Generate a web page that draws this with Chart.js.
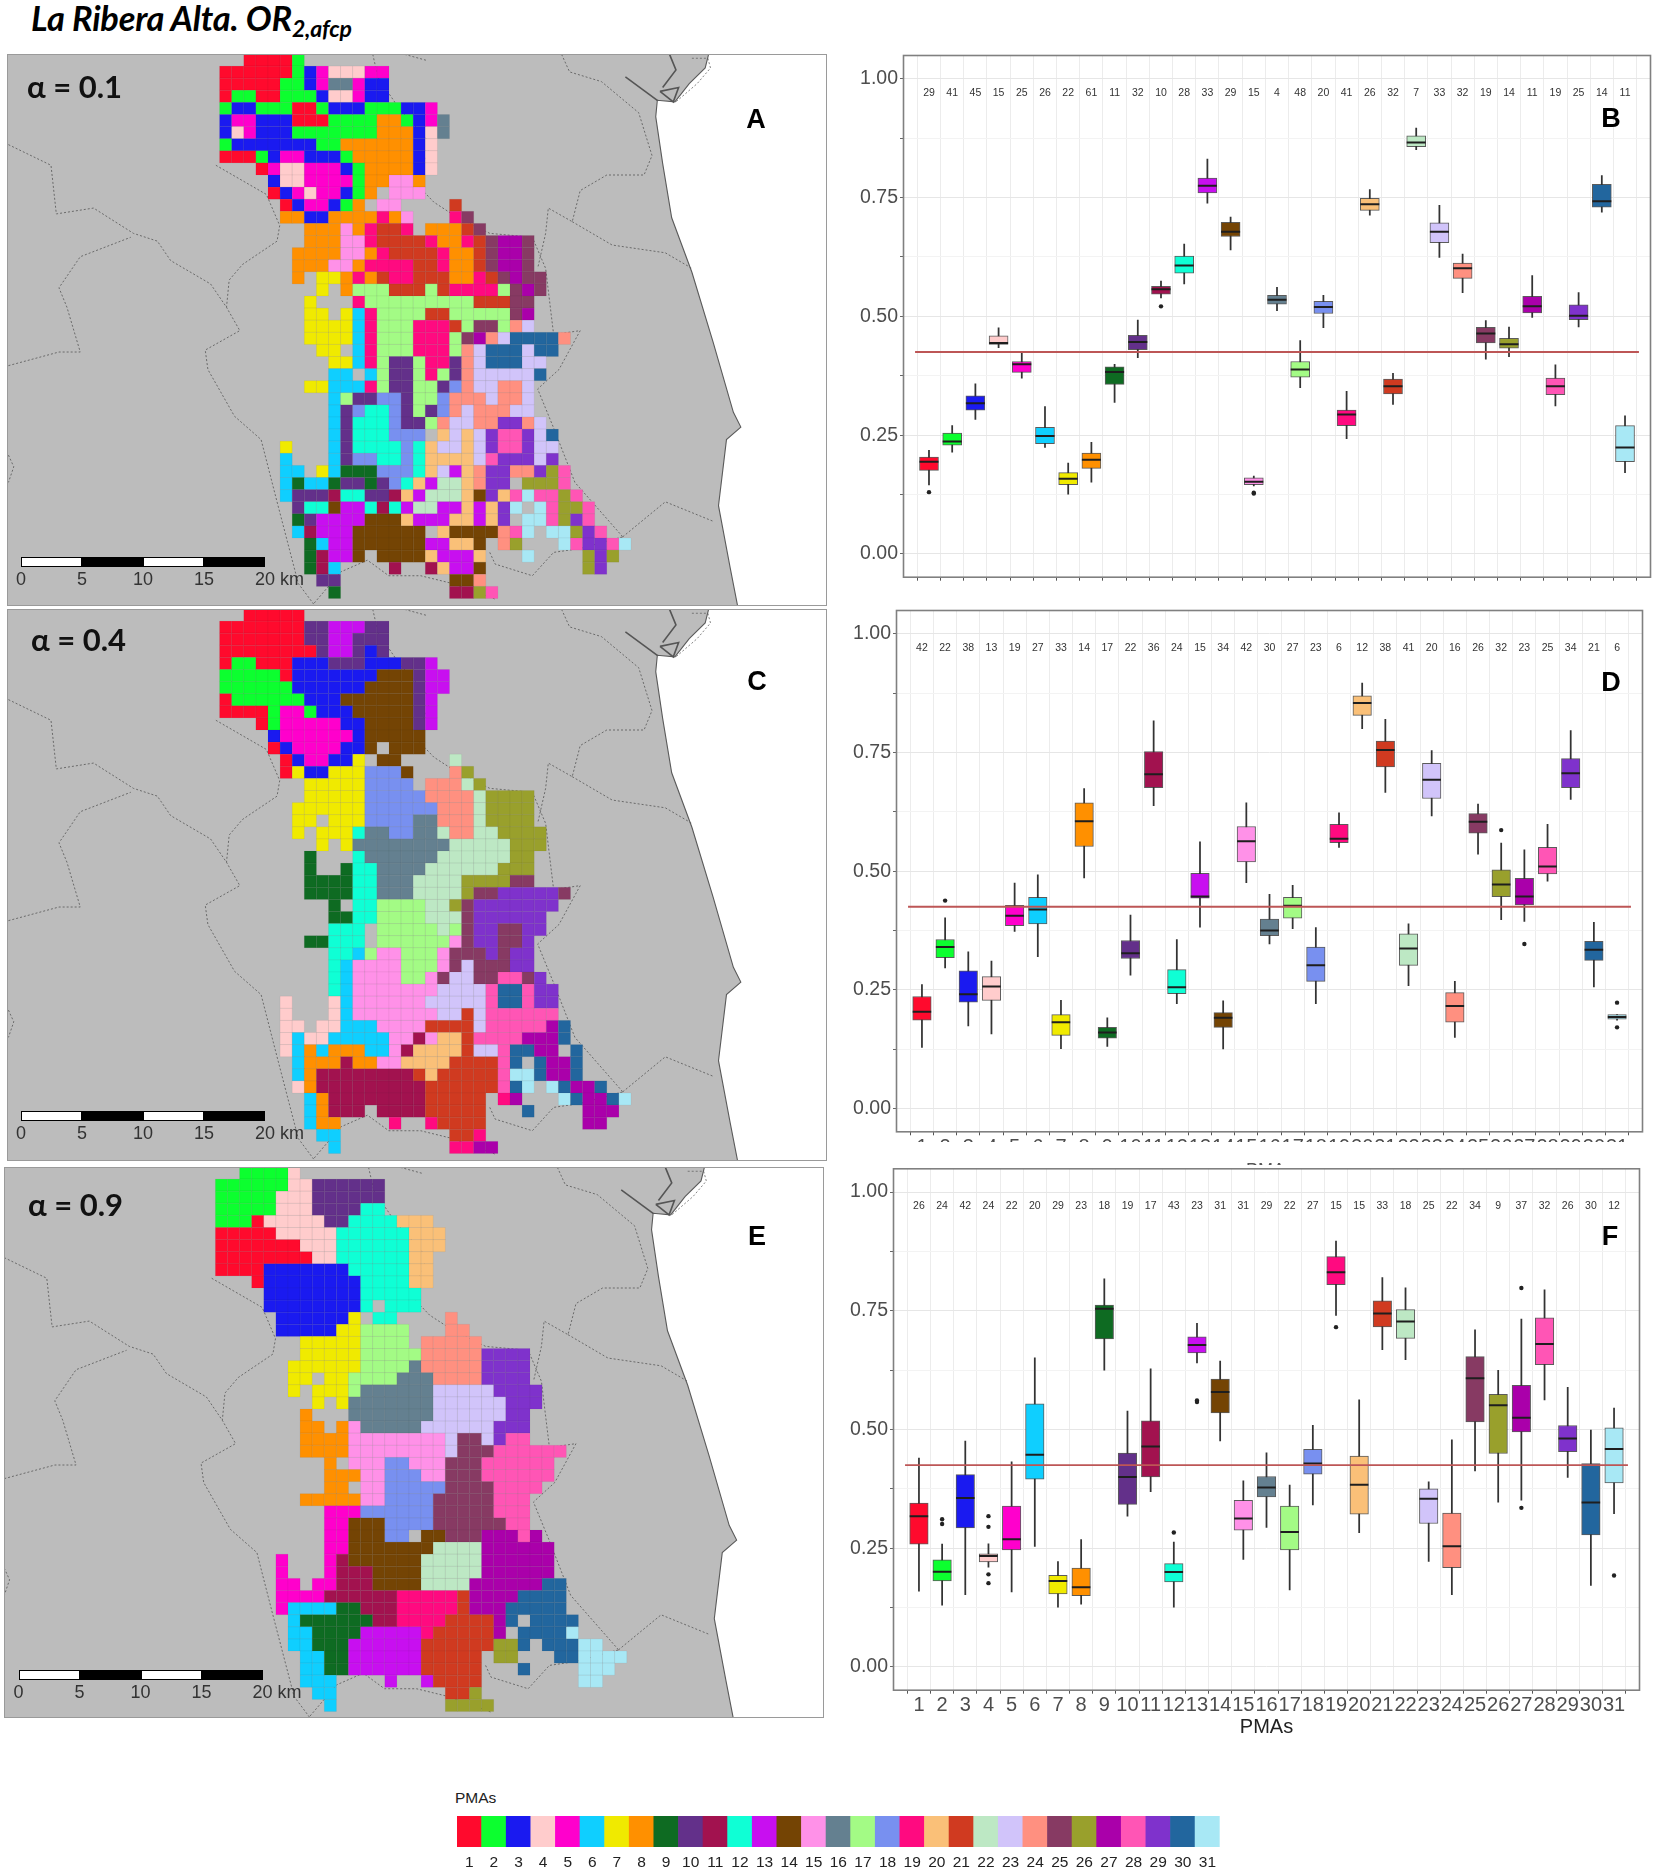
<!DOCTYPE html>
<html><head><meta charset="utf-8"><title>La Ribera Alta</title>
<script src="https://cdn.jsdelivr.net/npm/chart.js@4"></script>
<style>
html,body{margin:0;padding:0;background:#fff;}
body{position:relative;width:1653px;height:1871px;overflow:hidden;font-family:"Liberation Sans",Arial,sans-serif;}
canvas{position:absolute;display:block;}
.t{position:absolute;white-space:nowrap;line-height:1;}
.title{font:italic 700 34.4px "Lato",sans-serif;color:#000;letter-spacing:-.2px;}
.title sub{font-size:23px;vertical-align:-6px;line-height:0;}
.alpha{font:700 31px "Lato",sans-serif;color:#111;}
.letter{font:700 27px "Liberation Sans",sans-serif;color:#000;transform:translate(-50%,-50%);}
.sb{position:absolute;height:10px;border:1px solid #000;box-sizing:border-box;}
.sl{font-size:18px;color:#333;transform:translateX(-50%);}
.clip{position:absolute;overflow:hidden;}
</style></head><body>
<script>
const pmaColors=["#FF0A2D","#0CFF2F","#1A1AF0","#FFCCCC","#FF00CC","#0FCFFF","#F0EA00","#FF9000","#0E6B22","#63308A","#A2124F","#0FFFD5","#C80FF0","#744404","#FF91E8","#648090","#A3FB85","#7890F0","#FF0A80","#FAC078","#D03A20","#BDE8C4","#D1C4FA","#FF9080","#873A63","#99A02C","#AA00AA","#FF55B5","#7F32CC","#22669E","#A8E8F5"];
const categories=Array.from({length:31},(_,i)=>i+1);
const globalLine=0.425;

// Panel B (alpha = 0.1)
const bCount=[29,41,45,15,25,26,22,61,11,32,10,28,33,29,15,4,48,20,41,26,32,7,33,32,19,14,11,19,25,14,11];
const bHigh=[.218,.270,.358,.476,.422,.310,.191,.235,.399,.492,.574,.652,.831,.709,.164,.561,.449,.544,.342,.767,.380,.896,.7335,.631,.491,.4775,.586,.398,.550,.7965,.2905];
const bQ3=[.204,.2545,.333,.459,.405,.2665,.171,.2125,.394,.460,.563,.627,.791,.698,.160,.544,.405,.5315,.3025,.7485,.368,.880,.697,.612,.477,.4535,.542,.370,.524,.778,.270];
const bMed=[.194,.2365,.317,.444,.399,.248,.158,.198,.383,.446,.557,.607,.775,.678,.152,.535,.388,.5195,.2935,.736,.353,.866,.678,.601,.464,.4415,.521,.353,.501,.742,.224];
const bQ1=[.176,.229,.3025,.441,.382,.232,.146,.180,.357,.430,.5465,.591,.760,.668,.146,.5255,.372,.506,.270,.723,.337,.857,.655,.580,.444,.433,.507,.335,.493,.730,.194];
const bLow=[.145,.214,.283,.434,.370,.224,.126,.151,.319,.413,.539,.568,.738,.640,.143,.512,.350,.476,.2425,.713,.3145,.851,.624,.550,.410,.415,.498,.3115,.4775,.719,.171];
const bOutCat=[1,11,15,15];
const bOutVal=[.130,.521,.129,.127];

// Panel D (alpha = 0.4)
const dCount=[42,22,38,13,19,27,33,14,17,22,36,24,15,34,42,30,27,23,6,12,38,41,20,16,26,32,23,25,34,21,6];
const dHigh=[.261,.4015,.330,.3105,.475,.492,.228,.674,.191,.4075,.8165,.356,.562,.227,.644,.451,.470,.381,.623,.896,.820,.389,.754,.268,.641,.559,.545,.5985,.796,.392,.198];
const dQ3=[.236,.356,.290,.278,.428,.445,.198,.644,.171,.354,.752,.2925,.4955,.202,.594,.399,.445,.340,.5985,.869,.774,.368,.727,.244,.621,.503,.485,.550,.737,.352,.198];
const dMed=[.204,.3405,.241,.257,.406,.419,.182,.605,.160,.327,.704,.2555,.4465,.191,.563,.375,.427,.302,.568,.854,.755,.337,.6925,.216,.604,.472,.4465,.510,.706,.3345,.193];
const dQ1=[.186,.318,.224,.228,.385,.389,.154,.552,.148,.316,.676,.242,.443,.171,.5195,.364,.401,.268,.560,.828,.7195,.3015,.653,.182,.580,.4465,.429,.494,.676,.312,.188];
const dLow=[.129,.296,.174,.157,.373,.320,.126,.486,.131,.281,.638,.221,.382,.1255,.476,.347,.379,.221,.550,.800,.666,.259,.6165,.150,.536,.398,.394,.479,.651,.256,.186];
const dOutCat=[2,26,27,31,31];
const dOutVal=[.438,.5865,.3465,.223,.171];

// Panel F (alpha = 0.9)
const fCount=[26,24,42,24,22,20,29,23,18,19,17,43,23,31,31,29,22,27,15,15,33,18,25,22,34,9,37,32,26,30,12];
const fHigh=[.440,.2585,.4755,.2595,.432,.651,.222,.268,.817,.539,.628,.263,.7235,.644,.392,.451,.383,.509,.897,.5625,.820,.7985,.390,.478,.710,.6245,.7325,.794,.589,.499,.545];
const fQ3=[.345,.2255,.405,.238,.339,.554,.193,.208,.762,.4505,.518,.2175,.695,.606,.351,.401,.339,.4585,.864,.444,.771,.7525,.375,.324,.6535,.574,.593,.735,.5085,.428,.5035];
const fMed=[.3175,.2005,.356,.2335,.269,.447,.181,.168,.754,.400,.464,.200,.678,.579,.3125,.378,.284,.4285,.831,.3835,.744,.7275,.354,.254,.608,.551,.5245,.680,.481,.3465,.459];
const fQ1=[.2585,.181,.2925,.221,.2465,.3955,.154,.150,.6905,.3425,.400,.179,.6615,.535,.288,.358,.2465,.406,.805,.3215,.716,.692,.302,.209,.516,.4495,.495,.6365,.4535,.278,.3875];
const fLow=[.1595,.130,.152,.210,.158,.254,.126,.132,.625,.3175,.369,.126,.640,.476,.2265,.294,.162,.341,.740,.283,.668,.647,.222,.152,.413,.347,.351,.5625,.399,.1715,.323];
const fOutCat=[2,2,4,4,4,4,12,13,13,19,27,27,31];
const fOutVal=[.311,.301,.3175,.295,.195,.1765,.283,.561,.558,.7155,.798,.335,.1925];

// Map cells: each row lists "fromCol-toCol:pma", pma written in base 32 (a=10 ... v=31)
const mapARows=[
"2-5:1 6:2","0-5:1 6:2 7:3 8:5 9-11:4 12-13:5","0-4:1 5-6:2 7:3 8:5 9-10:g 11:5 12-13:3","0:1 1-2:2 3-4:1 5-7:2 8:3 9-10:4 11:5 12-13:3",
"0:2 1-2:3 3-5:2 6-7:1 8:2 9-11:3 12-14:2 15-16:3 17:5","0:3 1-2:5 3-5:3 6-8:1 9-12:2 13-14:8 15:2 16:3 17:5 18:g","0:3 1:4 2:5 3-5:3 6-12:2 13-15:8 16:3 17:4 18:g","0:2 1-7:3 8-9:2 10-15:8 16:3 17:4",
"0-2:1 3:2 4:3 5-6:5 7-9:3 10:2 11-15:8 16:3 17:4","3:1 4:5 5-6:4 7-9:5 10:3 11:2 12-15:8 16:3 17:4","4:3 5-6:4 7-10:5 11:2 12-13:8 14-15:f 16:8","4:1 5:3 6:5 7:4 8-9:5 10:3 11:2 12:8 14-16:f",
"5:1 6:3 7-8:5 9:3 10:2 11:8 13-14:f 19:l","5-6:8 7-8:3 9-12:8 13:j 14:8 15:f 19:j 20:p","7-9:8 10:f 11:8 12:j 13-14:l 15:j 17-19:8 20:l 21:p","7-9:8 10-11:f 12:j 13-16:l 17:j 18-19:8 20:j 21:l 22:p 23-24:r 25:p",
"6-9:8 10-11:f 12:8 13:j 14-17:l 18:j 19-20:8 21:l 22:p 23-24:r 25:p","6-8:8 9-10:f 11:8 12-15:j 16-17:l 18:j 19-20:8 21:l 22:p 23-24:r 25:p","6:8 8-9:7 10:8 11:j 12:8 13:l 14-15:j 16-18:l 19-20:8 21:j 22:l 23:p 24:r 25-26:p","8:7 10:8 11-13:h 14-16:l 17:h 18:l 19-22:j 23:h 24:p 25:r 26:p",
"7:7 11:j 12-20:h 21-23:l 24-25:p","7-8:7 10:7 11:6 12:j 13-16:h 17-18:l 19-23:h 24:p 25:r","7-10:7 11:6 12:j 13-15:h 16-18:j 19:l 20:h 21-22:p 23:h 24:o 25:n","7-10:7 11:6 12:j 13-15:h 16-18:j 19:h 20:p 21:r 22:o 23:n 24-27:u 28:o",
"8-9:7 11:6 12:j 13-15:h 16-18:j 19:h 20:o 21:n 22-24:u 25:n 26-27:u","9-10:7 11:6 12:j 13:h 14-15:a 16:h 17-18:j 19:a 20:o 21:n 22-24:u 25-26:n","9-10:6 12:6 13:h 14-15:a 16:h 17:j 18:h 19:a 20:o 21-25:n 26:u","7-8:7 9-11:6 12:j 13:h 14-15:a 16-17:h 18:a 19:i 20:o 21-22:n 23-24:o 25:n",
"9:6 10:h 11-12:a 13-14:i 15:a 16-17:h 18:i 19-21:o 22:n 23-24:o 25:n","9:6 10:a 11:i 12-13:c 14:i 15:a 16:h 17:a 18:i 19:o 20:n 21-23:o 24-25:n","9:6 10:a 11-13:c 14:i 15-16:a 17:h 18:o 19-20:n 21-22:o 23-24:t 25:o 26:n","9:6 10:a 11-13:c 14-16:i 18:k 19:n 20:k 21:n 22:t 23-24:s 25:t 26:n 27:u",
"5:7 9:6 10:a 11-14:c 15:i 16:c 17:k 18-19:n 20:k 21:n 22:t 23-24:s 25:t 26-27:n","5:6 9:6 10:a 11-12:i 13-14:c 15:i 16:c 17-20:k 21:n 22:s 23-25:t 26:n 27:t","5-6:6 8:7 9:6 10-12:9 13-15:i 16:c 17:k 18:n 19:d 20:k 21:o 22-23:t 24-25:o 26:t 27:q 28:s","5:6 6:9 7-8:6 9:9 10-11:a 12:9 13:a 14:i 15:c 16:k 17:d 18-19:m 20:k 21:o 22-23:t 25-27:q 28:s",
"5:6 6-8:a 9:b 10-11:c 12-13:a 14:b 15:k 16:d 17-19:m 20:k 21:e 22:t 23:k 24:s 25:v 26-27:s 28:q 29:s","6:a 7-8:c 9:e 10-11:d 12:c 13:b 14:c 15:d 16-17:m 18-19:d 20:k 21:d 22:k 23:t 24:v 26:v 27:s 28-29:q 30:s","6:9 7:a 8-11:d 12-14:e 15:k 16-18:d 19-20:k 21:d 22:k 23:t 25-26:v 27:s 28:q 29:t 30:s","6:6 7:b 8-10:d 11-16:e 18:k 19-22:e 23:o 24:s 25:v 27-28:v 29:q 30:t 31:s",
"7:9 8:6 9-10:d 11-16:e 17-18:d 19-20:k 21:e 23:o 24:q 28:v 29:s 30-31:t 32:s 33:v","7:9 8:b 9-10:d 11:e 13-16:e 17:k 18-20:d 21:k 25:v 30:q 31:t 32:q","7:9 8:b 9:6 14:b 17:b 18:k 19-20:d 21:e 30:q 31:t","8-9:a 19-20:e 21:o","9:9 19-20:b 21:q 22:s"];
const mapCRows=[
"2-6:1","0-6:1 7-8:a 9-11:d 12-13:a","0-6:1 7-8:a 9-10:d 11-13:a","0-7:1 8:a 9-10:d 11:a 12:3 13:a",
"0:1 1-2:2 3-5:1 6-8:3 9-11:a 12-14:3 15-16:a 17:d","0-4:2 5:1 6-12:3 13-15:e 16:a 17-18:d","0-5:2 6-11:3 12-15:e 16:a 17-18:d","0:1 1-6:2 7-9:3 10-15:e 16:a 17:d",
"0-3:1 4:2 5-6:5 7:2 8-10:3 11-15:e 16:a 17:d","3:1 4:2 5-9:5 10-11:3 12-15:e 16:a 17:d","4:3 5-10:5 11:3 12-16:e","4:1 5:3 6-9:5 10-11:3 12:e 14-16:e",
"5:1 6:3 7-8:5 9-10:3 11:7 13-14:e 19:m","5:1 6:7 7-8:3 9-11:7 12-14:i 15:e 19:o 20:q","7-11:7 12-15:i 17-19:o 20:m 21:q","7-11:7 12-16:i 17-20:o 21:m 22-25:q",
"6-11:7 12-17:i 18-20:o 21:m 22-25:q","6-7:7 9-11:7 12-15:i 16-17:g 18-20:o 21:m 22-25:q","6:7 8-10:7 11:c 12-13:g 14-15:i 16-17:g 18:m 19-20:o 21-22:m 23-26:q","8:7 10:7 11-18:g 19-23:m 24-26:q",
"7:9 11:c 12-17:g 18-23:m 24-25:q","7:9 10:9 11-12:c 13-16:g 17-22:m 23-25:q","7-10:9 11-12:c 13-15:g 16-19:m 20-23:q 24-25:p","7-10:9 11-12:c 13-15:g 16-19:m 20:q 21-22:p 23-27:t 28:p",
"9:9 11-12:c 13-16:h 17-18:m 19:q 20:p 21-27:t","9-10:9 11-12:c 13-16:h 17-19:m 20:p 21-26:t","9-11:c 13-17:h 18:m 19:h 20:p 21-22:t 23-24:p 25-26:t","7-8:9 9-11:c 13-18:h 19:f 20:p 21-22:t 23-24:p 25:t",
"9-10:c 11:6 12:h 13-14:f 15-17:h 18:f 19-21:p 22:t 23:p 24-25:t","9:c 10:6 11-14:f 15-17:h 18:f 19:p 20:n 21-23:p 24-25:t","9:c 10:6 11-14:f 15-16:h 17:f 18:p 19-20:n 21-22:p 23-24:s 25:p 26:t","9:c 10:6 11-17:f 18-21:n 22:s 23-24:u 25:s 26-27:t",
"5:4 9:4 10:6 11-16:f 17-21:n 22:s 23-24:u 25:s 26-27:t","5:4 9:4 10:6 11-17:f 18:n 19:n 20:l 21:n 22-27:s","5-6:4 8-9:4 10-12:6 13-16:f 17-20:l 21:n 22-26:s 27:r 28:u","5:4 6:6 7-8:4 9-13:6 14-15:f 16:b 17:f 18-19:k 20:l 21-24:s 25-27:r 28:u",
"5:4 6:6 7:8 8:6 9-11:8 12-13:6 14:f 15:b 16-19:k 20:l 21-22:n 23:s 24-25:u 26-27:r 29:u","6:6 7-9:8 10:b 11-12:8 13-14:f 15-18:k 19-22:l 23:s 24:u 26:u 27-28:r 29:u","6:6 7:8 8-15:b 16:l 17:k 18-22:l 23:s 24-25:v 26:u 27-28:r 29:u","6:4 7:8 8-16:b 17-22:l 23:s 24:u 25:v 27:v 28:u 29-30:r 31:u",
"7:6 8:8 9-16:b 17-21:l 23:j 24:r 28:v 29:u 30-31:r 32:u 33:v","7:6 8:8 9-11:b 13-16:b 17-21:l 25:u 30-32:r","7:6 8-9:8 14:j 17:j 18-21:l 30-31:r","8-9:6 19-20:l 21:j","9:6 19-20:j 21-22:r"];
const mapERows=[
"2-5:2 6:4","0-5:2 6-7:4 8-13:a","0-4:2 5-7:4 8-13:a","0-4:2 5-7:4 8-11:a 12-13:c",
"0-2:2 3:1 4-8:4 9-10:a 11-14:c 15-17:k","0-4:1 5-9:4 10-15:c 16-18:k","0-6:1 7-9:4 10-15:c 16-18:k","0-7:1 8-9:4 10-15:c 16-17:k",
"0-3:1 4-10:3 11-15:c 16-17:k","3:1 4-11:3 12-15:c 16-17:k","4-11:3 12-16:c","4-11:3 12:c 14-16:c",
"5-10:3 11:7 13-14:c 19:o","5-9:3 10-11:7 12-15:h 19-20:o","7-11:7 12-15:h 17-21:o","7-11:7 12-16:h 17-21:o 22-25:t",
"6-11:7 12-15:h 16:g 17-21:o 22-25:t","6-7:7 9-10:7 11-14:h 15-17:g 18-21:o 22-25:t","6:7 8-10:7 11:h 12-17:g 18-22:n 23-26:t","8:7 10:7 11-17:g 18-23:n 24-26:t",
"7:8 11-17:g 18-23:n 24-25:t","7-8:8 10:8 11:f 12-16:g 17-22:n 23-25:t","7-10:8 11-18:f 19:n 20-21:p 22:n 23:t 24-25:s","7-10:8 11-18:f 19:n 20-22:p 23-28:s",
"9:8 11-13:f 14-15:i 16-18:f 19-21:p 22-27:s","9-11:8 12-13:f 14-16:i 17-18:f 19-21:p 22-27:s","9-10:8 12-13:f 14-18:i 19-22:p 23-26:s","7-11:8 12-13:f 14-17:i 18-22:p 23-25:s",
"9-11:5 12-17:i 18-22:p 23-25:s","9-10:5 11-13:e 14-17:i 18-23:p 24-25:s","9-10:5 11-13:e 14-15:i 17-18:e 19-21:p 22-24:r 25:s 26:r","9-10:5 11-17:e 18-21:m 22-27:r",
"5:5 9:5 10:b 11-16:e 17-21:m 22-27:r","5:5 9:5 10-12:b 13-16:e 17-21:m 22-27:r","5-6:5 8-9:5 10-12:b 13-16:e 17-20:m 21-26:r 27-28:u","5-8:5 9-14:b 15-19:j 20:l 21-24:r 25-28:u",
"5:5 6-9:6 10-11:9 12-14:b 15-19:j 20:l 21-23:r 24-28:u","6:6 7-12:9 13-14:b 15-18:j 19-22:l 23:r 24:u 26-29:u","6-7:6 8-11:9 12-16:d 17:j 18-22:l 23:r 25-28:u 29:v","6-7:6 8-10:9 11-16:d 17-22:l 23-24:q 25:u 27-29:u 30-31:v",
"7-8:6 9-10:9 11-16:d 17-21:l 23-24:q 28-29:u 30-33:v","7-8:6 9-10:9 11-16:d 17-21:l 25:u 30-32:v","7-9:6 14:d 17:d 18-21:l 30-31:v","8-9:6 19-20:l 21:q","9:6 19-22:q"];

// Base map outlines, traced in image units and turned into grid units below
const seaOutline=[[1335,120],[1325,175],[1295,215],[1268,262],[1235,258],[1232,300],[1245,420],[1262,560],[1300,700],[1340,880],[1378,1060],[1392,1098],[1365,1130],[1350,1300],[1372,1460],[1392,1600],[1800,1600],[1800,120]];
const dottedLines=[
[[15,372],[95,425],[105,550],[175,535],[250,600],[295,620],[320,670],[395,730],[425,790],[450,850],[385,900],[390,950],[440,1070],[490,1130],[520,1290],[560,1500],[590,1555]],
[[15,940],[110,905],[150,905],[125,790],[110,740],[150,660],[245,610]],
[[405,425],[500,500],[525,580],[520,620],[455,680],[430,720],[425,790]],
[[700,140],[710,200],[750,280],[810,370],[780,470],[815,520],[860,560],[920,600],[1000,610],[1025,690],[1040,860],[1090,850],[1050,950],[1010,1000],[1040,1100],[1080,1240],[1170,1380]],
[[1055,140],[1070,185],[1130,210],[1200,290],[1225,400],[1210,450],[1140,450],[1090,490],[1075,570],[1030,535],[1025,600],[1010,690]],
[[1075,570],[1150,630],[1250,650],[1300,690]],
[[1170,1380],[1250,1290],[1340,1340]],
[[920,1420],[930,1450],[1000,1480],[1040,1420],[1090,1410],[1170,1380]],
[[590,1550],[640,1470],[690,1440],[730,1480],[790,1480],[850,1500],[930,1540]],
[[15,1170],[25,1200],[15,1240]],[[760,140],[800,155]]];
const portLines=[
[[1175,198],[1235,258]],[[1240,235],[1275,225],[1265,262],[1240,235]],[[1258,140],[1270,180],[1245,225]],[[1300,150],[1330,150],[1335,175],[1310,215],[1270,262]]];

const cellPx=12.1;
const toCell=p=>({x:(p[0]-412)/22.75,y:(p[1]-139)/31.1});
const animationOff={animation:false,responsive:false,maintainAspectRatio:false,events:[]};

function makeCanvas(l,t,w,h,parent){
  const c=document.createElement('canvas');c.width=w;c.height=h;
  c.style.cssText=`left:${l}px;top:${t}px;width:${w}px;height:${h}px;`;
  (parent||document.body).appendChild(c);return c.getContext('2d');
}
function addText(cls,txt,l,t){
  const d=document.createElement('div');d.className='t '+cls;d.innerHTML=txt;d.style.left=l+'px';d.style.top=t+'px';document.body.appendChild(d);return d;
}

function mapChart(rows,f,col0,row0){
  const cells=[],colors=[];
  rows.forEach((row,r)=>row.split(' ').forEach(tok=>{
    const [span,id]=tok.split(':');const [a,b]=span.split('-').map(Number);
    for(let c=a;c<=(b===undefined?a:b);c++){cells.push({x:c+.5,y:r+.5});colors.push(pmaColors[parseInt(id,32)-1]);}
  }));
  const ds=[{type:'scatter',data:cells,pointStyle:'rect',pointRadius:cellPx*Math.SQRT1_2,pointBackgroundColor:colors,pointBorderColor:'rgba(40,40,40,.10)',pointBorderWidth:.5,order:1}];
  dottedLines.forEach(l=>ds.push({type:'scatter',showLine:true,data:l.map(toCell),borderColor:'#6a6a6a',borderWidth:1,borderDash:[2,2],pointRadius:0,order:3}));
  portLines.forEach((l,i)=>ds.push({type:'scatter',showLine:true,data:l.map(toCell),borderColor:i==3?'#666':'#555',borderWidth:i==3?.8:1.6,borderDash:i==3?[2,2]:[],pointRadius:0,order:2}));
  ds.push({type:'scatter',showLine:true,data:seaOutline.map(toCell),fill:'shape',backgroundColor:'#fff',borderColor:'#5a5a5a',borderWidth:1.1,pointRadius:0,order:4});
  new Chart(makeCanvas(f.l,f.t,f.w,f.h),{type:'scatter',data:{datasets:ds},options:{...animationOff,layout:{padding:0,autoPadding:false},
    plugins:{legend:{display:false},tooltip:{enabled:false},frame:{fill:'#BCBCBC',color:'#9a9a9a',width:1}},
    scales:{x:{type:'linear',display:false,min:(f.l-col0)/cellPx,max:(f.l+f.w-col0)/cellPx},
            y:{type:'linear',display:false,reverse:true,min:(f.t-row0)/cellPx,max:(f.t+f.h-row0)/cellPx}}}});
}

Chart.register({id:'frame',
  beforeDatasetsDraw(c,_,o){if(o.fill){const a=c.chartArea;c.ctx.save();c.ctx.fillStyle=o.fill;c.ctx.fillRect(a.left,a.top,a.width,a.height);c.ctx.restore();}},
  afterDraw(c,_,o){if(!o.color)return;const a=c.chartArea,x=c.ctx;x.save();x.strokeStyle=o.color;x.lineWidth=o.width||1;x.strokeRect(a.left+.5,a.top+.5,a.width-1,a.height-1);x.restore();}});
Chart.register({id:'counts',
  afterDatasetsDraw(c,_,o){if(!o.values)return;const x=c.ctx;x.save();x.font='10.5px "Liberation Sans"';x.fillStyle='#333';x.textAlign='center';x.textBaseline='middle';
    o.values.forEach((v,i)=>x.fillText(String(v),c.scales.x.getPixelForValue(categories[i]),c.scales.y.getPixelForValue(.97)));x.restore();}});

function boxChart(p){
  const {high,q3,med,q1,low,count,outCat,outVal}=p;
  const isMajor=v=>Math.abs(v*4-Math.round(v*4))<1e-6;
  const ds=[
    {type:'scatter',showLine:true,data:[{x:.4,y:globalLine},{x:31.6,y:globalLine}],borderColor:'#bd5656',borderWidth:1.8,pointRadius:0,order:0},
    {type:'scatter',data:categories.map((c,i)=>({x:c,y:med[i]})),pointStyle:'line',pointRadius:p.boxW/2,pointBorderColor:'#1e1e1e',pointBorderWidth:2,order:1},
    {type:'scatter',data:outCat.map((c,i)=>({x:c,y:outVal[i]})),pointStyle:'circle',pointRadius:2.2,pointBackgroundColor:'#222',pointBorderColor:'#222',pointBorderWidth:0,order:1},
    {type:'bar',data:categories.map((c,i)=>({x:c,y:[q1[i],q3[i]]})),backgroundColor:pmaColors,borderColor:'rgba(50,50,50,.8)',borderWidth:1,borderSkipped:false,barThickness:p.boxW,order:2},
    {type:'bar',data:categories.map((c,i)=>({x:c,y:[low[i],high[i]]})),backgroundColor:'#333',borderWidth:0,barThickness:1.1,order:3}
  ];
  new Chart(makeCanvas(p.cl,p.ct,p.cw,p.ch),{type:'bar',data:{datasets:ds},options:{...animationOff,
    datasets:{bar:{grouped:false}},
    layout:{autoPadding:false,padding:{top:p.pt,left:0,right:p.cl+p.cw-p.pr,bottom:0}},
    plugins:{legend:{display:false},tooltip:{enabled:false},frame:{color:'#808080',width:1.6},counts:{values:count}},
    scales:{
      x:{type:'linear',min:.4,max:31.6,afterFit:s=>{s.height=p.axisH;s.paddingLeft=0;s.paddingRight=0;},
        grid:{color:'#ececec',lineWidth:1,drawTicks:true,tickLength:3,tickColor:'#555'},border:{display:false},
        title:p.title?{display:true,text:'PMAs',color:'#222',font:{size:20,family:'"Liberation Sans"'},padding:0}:{display:false},
        ticks:{stepSize:1,includeBounds:false,autoSkip:false,maxRotation:0,padding:0,color:'#4d4d4d',font:{size:20,family:'"Liberation Sans"'},
          display:true,callback:v=>p.xLabels?String(v):''}},
      y:{type:'linear',min:-.05,max:1.05,afterFit:s=>{s.width=p.pl-p.cl;s.paddingTop=0;s.paddingBottom=0;},
        grid:{color:ctx=>isMajor(ctx.tick.value)?'#e6e6e6':'#f3f3f3',lineWidth:1,tickLength:3,tickColor:'#666'},border:{display:false},
        ticks:{stepSize:.125,includeBounds:false,autoSkip:false,padding:2,color:'#4d4d4d',font:{size:19.5,family:'"Liberation Sans"'},
          callback:v=>isMajor(v)?v.toFixed(2):''}}
    }}});
}

// ---- maps
mapChart(mapARows,{l:7,t:54,w:820,h:552},219.6,54);
mapChart(mapCRows,{l:7,t:609,w:820,h:552},219.6,609);
mapChart(mapERows,{l:4,t:1167,w:820,h:551},215.4,1167);

// ---- box plots
boxChart({high:bHigh,q3:bQ3,med:bMed,q1:bQ1,low:bLow,count:bCount,outCat:bOutCat,outVal:bOutVal,
  cl:830,ct:50,cw:823,ch:540,pl:903,pr:1651,pt:5,axisH:12.3,boxW:19});
boxChart({high:dHigh,q3:dQ3,med:dMed,q1:dQ1,low:dLow,count:dCount,outCat:dOutCat,outVal:dOutVal,
  cl:830,ct:605,cw:823,ch:537,pl:896,pr:1643,pt:5,axisH:9.7,boxW:18.5,xLabels:true});
boxChart({high:fHigh,q3:fQ3,med:fMed,q1:fQ1,low:fLow,count:fCount,outCat:fOutCat,outVal:fOutVal,
  cl:830,ct:1163,cw:823,ch:576,pl:893,pr:1640,pt:5.3,axisH:48.3,boxW:18.5,xLabels:true,title:true});

// ---- PMA legend
new Chart(makeCanvas(457,1816,765,55),{type:'bar',data:{labels:categories.map(String),datasets:[{data:categories.map(()=>1),backgroundColor:pmaColors,barPercentage:1,categoryPercentage:1}]},
  options:{...animationOff,layout:{padding:0,autoPadding:false},plugins:{legend:{display:false},tooltip:{enabled:false}},
  scales:{x:{afterFit:s=>{s.height=24;},grid:{display:false,drawTicks:false},border:{display:false},ticks:{autoSkip:false,maxRotation:0,padding:6,color:'#222',font:{size:15.5,family:'"Liberation Sans"'}}},
          y:{display:false,min:0,max:1}}}});

// ---- text and scale bars
addText('title','La Ribera Alta. OR<sub>2,afcp</sub>',31,-3);
addText('alpha','α = 0.1',27,67);
addText('alpha','α = 0.4',31,620);
addText('alpha','α = 0.9',28,1185);
[['A',756,119],['B',1611,118],['C',757,681],['D',1611,682],['E',757,1236],['F',1610,1236]].forEach(a=>addText('letter',a[0],a[1],a[2]));
addText('',"PMAs",455,1790).style.cssText+='font-size:15.5px;color:#222;';

function scaleBar(x,y,ly){
  const seg=61;
  [0,1,2,3].forEach(i=>{const d=document.createElement('div');d.className='sb';d.style.left=(x+i*seg)+'px';d.style.top=y+'px';d.style.width=seg+'px';d.style.background=i%2?'#000':'#fff';document.body.appendChild(d);});
  ['0','5','10','15'].forEach((s,i)=>addText('sl',s,x+i*seg,ly-9));
  const e=addText('sl','20 km',x+4*seg-10,ly-9);e.style.transform='none';
}
scaleBar(21,557,579);
scaleBar(21,1111,1133);
scaleBar(18.6,1669.5,1692);

// cropped axis title sticking out above panel F
const clip=document.createElement('div');clip.className='clip';clip.style.cssText='left:1240px;top:1160px;width:60px;height:5px;';
clip.innerHTML='<div class="t" style="left:6px;top:1px;font-size:18px;color:#555;">PMAs</div>';document.body.appendChild(clip);
</script>
</body></html>
